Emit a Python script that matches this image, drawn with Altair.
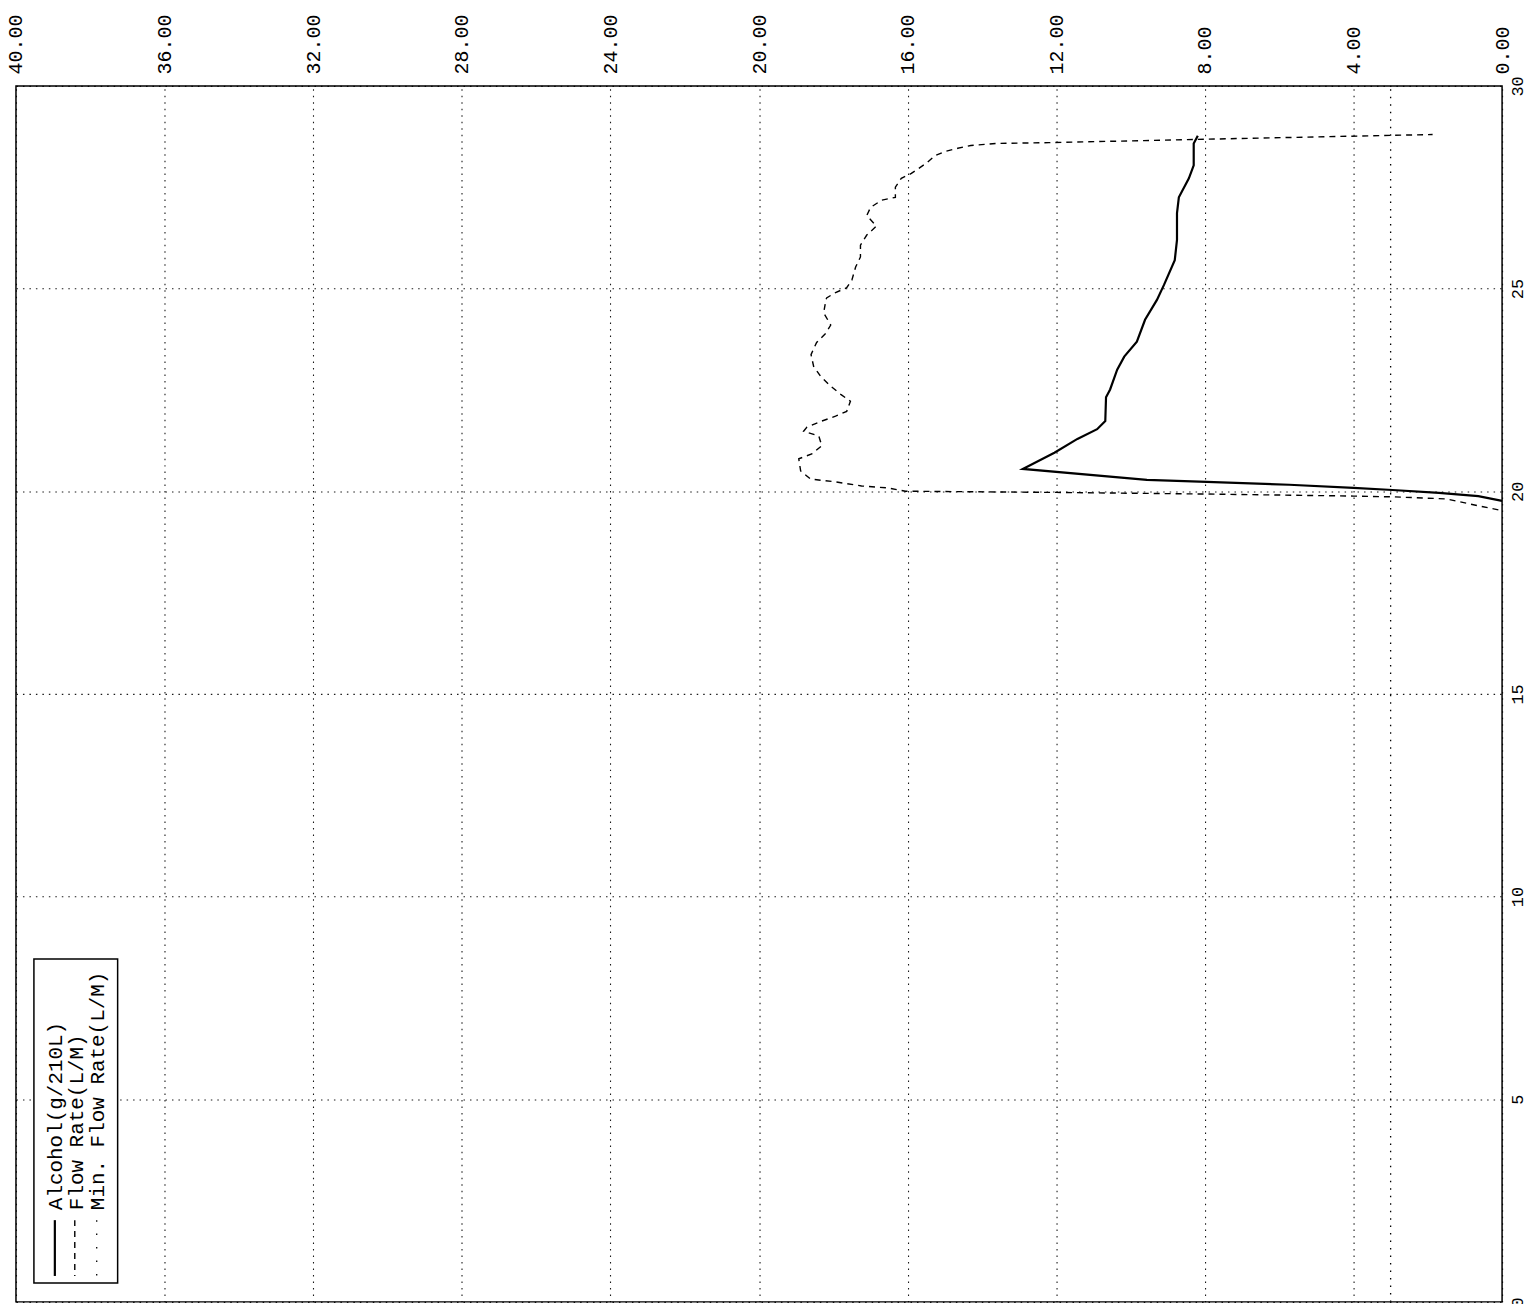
import altair as alt
import pandas as pd

# ---- data (time in s on the vertical axis, value on the horizontal axis) ----
alcohol_time = [19.76, 19.88, 19.96, 20.03, 20.08, 20.16, 20.23, 20.28, 20.55,
                20.95, 21.29, 21.53, 21.73, 22.32, 22.51, 23.0, 23.32, 23.69,
                24.23, 24.72, 25.09, 25.7, 26.2, 26.86, 27.25, 27.72, 28.04,
                28.58, 28.77]
alcohol_value = [0.0, 0.64, 1.7, 2.95, 4.0, 5.73, 7.95, 9.56, 12.9,
                 12.05, 11.43, 10.9, 10.68, 10.66, 10.55, 10.36, 10.17, 9.83,
                 9.61, 9.29, 9.1, 8.81, 8.75, 8.75, 8.7, 8.43, 8.3,
                 8.3, 8.19]

flow_time = [19.54, 19.64, 19.81, 19.86, 19.88, 19.93, 19.97, 20.0, 20.08,
             20.13, 20.23, 20.3, 20.5, 20.8, 20.92, 21.12, 21.36, 21.48,
             21.58, 21.73, 21.85, 21.97, 22.22, 22.39, 22.59, 22.83, 23.08,
             23.37, 23.67, 23.9, 24.1, 24.4, 24.72, 24.77, 24.9, 25.02,
             25.21, 25.53, 25.78, 26.07, 26.32, 26.54, 26.8, 27.0, 27.18,
             27.25, 27.5, 27.72, 27.84, 28.09, 28.28, 28.38, 28.46, 28.53,
             28.58, 28.6, 28.65, 28.7, 28.8]
flow_value = [0.1, 0.64, 1.5, 2.9, 4.0, 7.95, 12.0, 16.06, 16.52,
              17.24, 17.94, 18.61, 18.88, 18.93, 18.58, 18.31, 18.39, 18.8,
              18.71, 18.31, 17.94, 17.64, 17.54, 17.8, 18.07, 18.34, 18.53,
              18.6, 18.45, 18.2, 18.07, 18.26, 18.2, 18.18, 17.94, 17.64,
              17.5, 17.4, 17.27, 17.27, 17.1, 16.84, 17.1, 17.0, 16.7,
              16.33, 16.33, 16.17, 15.9, 15.5, 15.26, 15.0, 14.65, 14.3,
              13.6, 12.2, 9.64, 7.15, 1.87]

min_flow_time = [0.0, 30.0]
min_flow_value = [3.0, 3.0]

value_ticks = [0, 4, 8, 12, 16, 20, 24, 28, 32, 36, 40]
time_ticks = [0, 5, 10, 15, 20, 25, 30]

legend_labels = ["Alcohol(g/210L)", "Flow Rate(L/M)", "Min. Flow Rate(L/M)"]

FONT = "Liberation Mono"

def frame(t, v):
    return pd.DataFrame({"time": t, "value": v, "idx": list(range(len(t)))})

grid_kw = dict(grid=True, gridColor="black", gridDash=[1.5, 5], gridWidth=1.1, gridOpacity=0.9)

x_enc = alt.X("value:Q",
              scale=alt.Scale(domain=[0, 40], reverse=True, nice=False, zero=False),
              axis=alt.Axis(orient="top", values=value_ticks, format=".2f",
                            labelAngle=270, labelAlign="left", labelBaseline="middle",
                            labelPadding=12, labelFontSize=20, labelFont=FONT,
                            labelColor="black", labelFlush=False, labelOverlap=False,
                            ticks=False, domain=False, title=None, **grid_kw))
y_enc = alt.Y("time:Q",
              scale=alt.Scale(domain=[0, 30], nice=False, zero=False),
              axis=alt.Axis(orient="right", values=time_ticks, format="d",
                            labelAngle=270, labelAlign="center", labelBaseline="top",
                            labelPadding=7, labelFontSize=17, labelFont=FONT,
                            labelColor="black", labelFlush=False, labelOverlap=False,
                            ticks=False, domain=False, title=None, **grid_kw))

base_axes = alt.Chart(frame(min_flow_time, min_flow_value)).mark_point(opacity=0).encode(
    x=x_enc, y=y_enc)

min_line = alt.Chart(frame(min_flow_time, min_flow_value)).mark_line(
    color="black", strokeWidth=1.3, strokeDash=[1.5, 6]).encode(
    x="value:Q", y="time:Q", order="idx:Q")

flow_line = alt.Chart(frame(flow_time, flow_value)).mark_line(
    color="black", strokeWidth=1.4, strokeDash=[6, 5]).encode(
    x="value:Q", y="time:Q", order="idx:Q")

alc_line = alt.Chart(frame(alcohol_time, alcohol_value)).mark_line(
    color="black", strokeWidth=2.2).encode(
    x="value:Q", y="time:Q", order="idx:Q")

one = alt.Data(values=[{"k": 1}])

legend_box = alt.Chart(one).mark_rect(fill="white", stroke="black", strokeWidth=1.5).encode(
    x=alt.value(18), x2=alt.value(102), y=alt.value(876), y2=alt.value(1201))

sym_solid = alt.Chart(one).mark_rule(color="black", strokeWidth=2.2).encode(
    x=alt.value(39), y=alt.value(1138), y2=alt.value(1194))
sym_dash = alt.Chart(one).mark_rule(color="black", strokeWidth=1.4, strokeDash=[6, 5]).encode(
    x=alt.value(59), y=alt.value(1138), y2=alt.value(1194))
sym_dot = alt.Chart(one).mark_rule(color="black", strokeWidth=1.3, strokeDash=[1.5, 12]).encode(
    x=alt.value(81), y=alt.value(1138), y2=alt.value(1194))

legend_texts = []
for lbl, xx in zip(legend_labels, [40, 61, 82]):
    legend_texts.append(
        alt.Chart(one).mark_text(angle=270, align="left", baseline="middle",
                                 font=FONT, fontSize=21, color="black").encode(
            x=alt.value(xx), y=alt.value(1128), text=alt.value(lbl)))

chart = alt.layer(base_axes, min_line, flow_line, alc_line,
                  legend_box, sym_solid, sym_dash, sym_dot, *legend_texts).properties(
    width=1491, height=1220,
    autosize=alt.AutoSizeParams(type="none"),
    padding={"left": 8, "top": 76, "right": 24, "bottom": 0},
    background="white",
).configure_view(stroke="black", strokeWidth=1.5)

chart.save("out.html", embed_options={"renderer": "svg", "actions": False})
